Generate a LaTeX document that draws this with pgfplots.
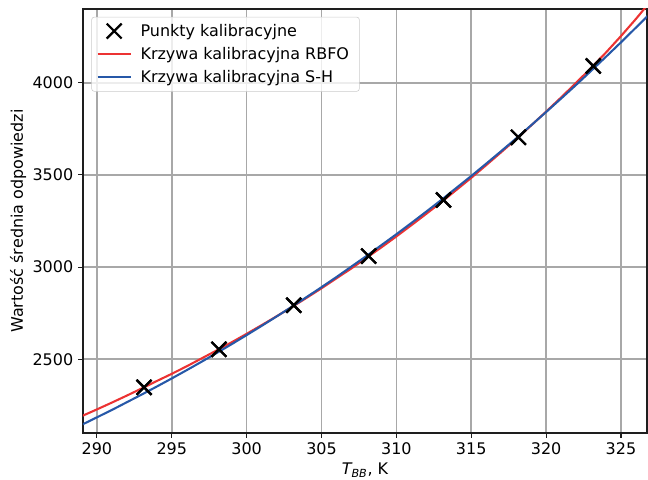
\documentclass[border=0pt]{standalone}
\usepackage{fontspec}
\setmainfont{DejaVu Sans}
\usepackage{pgfplots}
\usepackage{pgfplotstable}
\pgfplotsset{compat=1.18}
\definecolor{rbfo}{RGB}{236,50,50}
\definecolor{sh}{RGB}{38,88,168}
\definecolor{gridc}{RGB}{168,168,168}
\definecolor{legframe}{RGB}{204,204,204}
\definecolor{spine}{RGB}{30,30,30}
\newcommand{\mpl}{\fontsize{11.5}{13.8}\selectfont}
\pgfplotsset{
  linelegend/.style={legend image code/.code={\path[draw=none,fill=none] (0pt,0pt) -- (27pt,0pt);\draw[##1] (0pt,0pt) -- (24pt,0pt);}},
  marklegend/.style={legend image code/.code={\path[draw=none,fill=none] (0pt,0pt) -- (27pt,0pt);\draw[mark repeat=2,mark phase=2,##1] plot coordinates {(0pt,0pt) (12pt,0pt) (24pt,0pt)};}},
}

\pgfplotstableread{
T S
293.15 2348
298.15 2554
303.15 2793
308.15 3060
313.15 3364
318.15 3704
323.15 4091
}\points

\pgfplotstableread{
T S
289 2192
290 2228
291 2265
292 2303
293 2342
294 2382
295 2421
296 2462
297 2505
298 2548
299 2592
300 2638
301 2685
302 2733
303 2782
304 2833
305 2885
306 2939
307 2993
308 3050
309 3107
310 3166
311 3227
312 3289
313 3352
314 3418
315 3484
316 3553
317 3623
318 3694
319 3768
320 3843
321 3920
322 3999
323 4080
324 4164
325 4253
326 4346
327 4444
}\rbfo

\pgfplotstableread{
T S
289 2145
290 2185
291 2225
292 2267
293 2309
294 2352
295 2396
296 2441
297 2487
298 2534
299 2582
300 2631
301 2681
302 2732
303 2784
304 2837
305 2891
306 2946
307 3003
308 3060
309 3119
310 3178
311 3239
312 3301
313 3364
314 3429
315 3494
316 3561
317 3629
318 3698
319 3769
320 3841
321 3914
322 3988
323 4064
324 4141
325 4219
326 4299
327 4380
}\sh

\begin{document}
\begin{tikzpicture}
\useasboundingbox (0pt,0pt) rectangle (466.56pt,345.6pt);
\begin{axis}[
  at={(59.76pt,33.84pt)}, anchor=south west,
  scale only axis, width=406.08pt, height=305.28pt,
  xmin=289.07, xmax=326.74, ymin=2100, ymax=4400,
  xtick={290,295,...,325}, ytick={2500,3000,3500,4000},
  /pgf/number format/assume math mode=true,
  /pgf/number format/1000 sep={},
  tick label style={font=\mpl},
  label style={font=\mpl},
  xtick pos=bottom, ytick pos=left,
  tick align=outside, major tick length=3.5pt,
  tick style={spine, line width=0.8pt},
  axis line style={spine, line width=0.8pt},
  grid=major, major grid style={gridc, line width=1.1pt},
  xlabel={{\itshape T}\textsubscript{\itshape BB}, K},
  ylabel={Wartość średnia odpowiedzi},
  xlabel style={at={(axis description cs:0.5,-0.0873)}, anchor=center},
  ylabel style={at={(axis description cs:-0.1152,0.5)}, anchor=center},
  legend cell align=left,
  legend style={at={(0,1)}, anchor=north west, xshift=6.0pt, yshift=-5.6pt,
    draw=legframe, rounded corners=2pt, fill=white, fill opacity=0.8, text opacity=1,
    font=\mpl, row sep=2.4pt, inner xsep=3.5pt, inner ysep=3pt,
    nodes={inner xsep=4pt}},
]
\addplot[only marks, mark=x, mark size=7.6pt, mark options={line width=1.6pt, black}, marklegend]
  table[x=T,y=S] {\points};
\addlegendentry{Punkty kalibracyjne}
\addplot[rbfo, line width=1.5pt, line join=round, linelegend]
  table[x=T,y=S] {\rbfo};
\addlegendentry{Krzywa kalibracyjna RBFO}
\addplot[sh, line width=1.5pt, line join=round, linelegend]
  table[x=T,y=S] {\sh};
\addlegendentry{Krzywa kalibracyjna S-H}
\addplot[only marks, mark=x, mark size=7.6pt, mark options={line width=1.6pt, black}, forget plot]
  table[x=T,y=S] {\points};
\end{axis}
\end{tikzpicture}
\end{document}
